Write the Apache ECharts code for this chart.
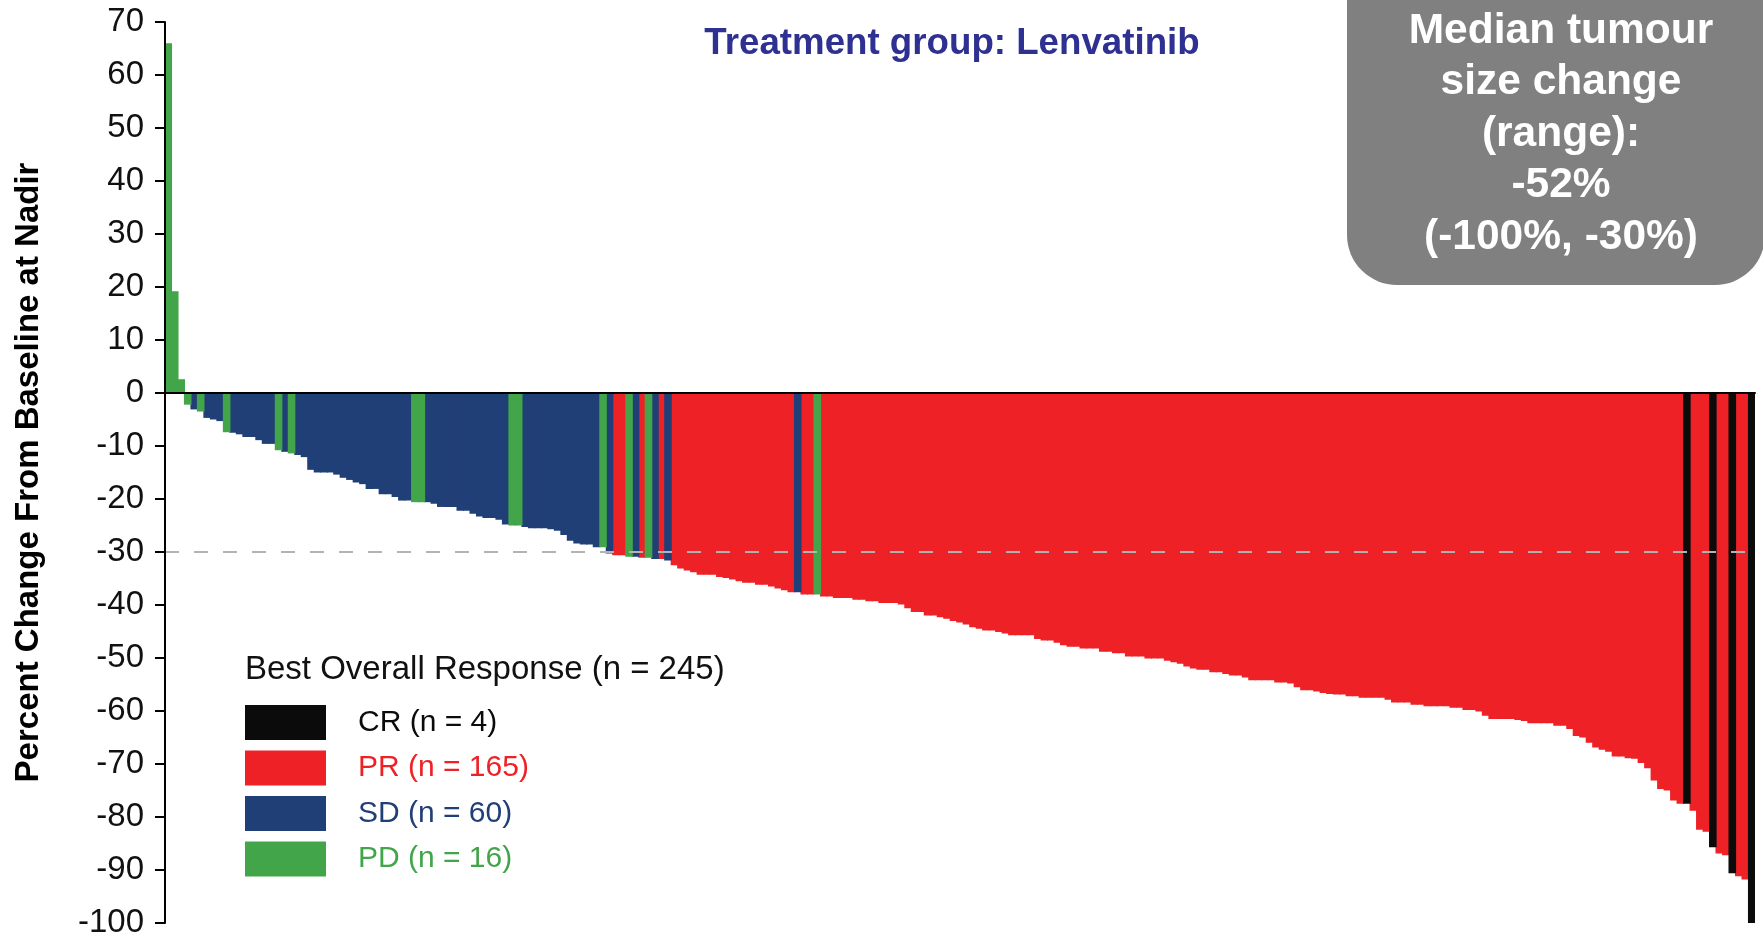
<!DOCTYPE html>
<html>
<head>
<meta charset="utf-8">
<title>Best overall response – Lenvatinib</title>
<script src="https://cdn.jsdelivr.net/npm/echarts@6/dist/echarts.min.js"></script>
<style>
html, body { margin: 0; padding: 0; background: #fff; }
#chart { width: 1763px; height: 940px; }
</style>
</head>
<body>
<div id="chart"></div>
<script>
// percent change from baseline at nadir, one value per patient, sorted
const values = [
  66, 19.2, 2.6, -2.2, -3.1, -3.5, -4.7, -5.0, -5.3, -7.4,
  -7.5, -7.8, -8.3, -8.3, -8.9, -9.6, -9.6, -10.8, -11.1, -11.4,
  -11.7, -12.1, -14.5, -15.0, -15.0, -15.0, -15.4, -16.0, -16.4, -16.9,
  -17.2, -18.1, -18.1, -19.1, -19.1, -19.6, -20.3, -20.3, -20.6, -20.6,
  -20.6, -20.9, -21.5, -21.5, -21.5, -22.2, -22.2, -22.8, -23.3, -23.6,
  -23.6, -23.9, -24.8, -25.0, -25.0, -25.3, -25.5, -25.5, -25.5, -25.7,
  -26.0, -26.8, -27.9, -28.4, -28.6, -28.6, -29.1, -29.1, -30.3, -30.6,
  -30.6, -30.9, -30.9, -31.1, -31.1, -31.3, -31.3, -31.6, -32.5, -33.1,
  -33.5, -33.8, -34.3, -34.3, -34.3, -34.7, -34.9, -35.2, -35.5, -35.8,
  -35.8, -36.2, -36.2, -36.5, -36.9, -37.2, -37.6, -37.6, -38.0, -38.0,
  -38.0, -38.4, -38.4, -38.7, -38.7, -38.7, -39.0, -39.0, -39.3, -39.3,
  -39.6, -39.6, -39.6, -39.9, -40.6, -41.3, -41.3, -42.0, -42.0, -42.3,
  -42.6, -43.0, -43.3, -43.7, -44.2, -44.5, -44.8, -44.8, -45.1, -45.4,
  -45.7, -45.7, -45.7, -45.7, -46.4, -46.7, -46.7, -47.1, -47.6, -47.9,
  -47.9, -48.2, -48.2, -48.2, -48.8, -48.8, -49.1, -49.1, -49.7, -49.7,
  -49.7, -50.1, -50.1, -50.1, -50.5, -50.8, -51.1, -51.6, -52.0, -52.2,
  -52.2, -52.7, -52.7, -53.0, -53.3, -53.3, -53.7, -54.2, -54.2, -54.2,
  -54.2, -54.6, -54.6, -54.8, -55.5, -56.1, -56.1, -56.3, -56.6, -56.8,
  -56.9, -56.9, -57.2, -57.2, -57.5, -57.5, -57.5, -57.5, -57.9, -58.4,
  -58.4, -58.4, -58.8, -58.8, -59.1, -59.1, -59.1, -59.1, -59.4, -59.4,
  -59.8, -59.8, -60.1, -60.9, -61.5, -61.5, -61.5, -61.5, -61.7, -61.9,
  -62.3, -62.3, -62.3, -62.3, -62.8, -62.8, -63.4, -64.7, -65.0, -66.0,
  -66.9, -67.3, -67.7, -68.6, -68.6, -68.9, -69.0, -69.8, -70.8, -73.1,
  -74.7, -75.0, -76.9, -77.5, -77.5, -78.8, -82.4, -82.8, -85.7, -86.9,
  -87.2, -90.6, -91.2, -91.8, -100
]

// best overall response per patient: C = CR, R = PR, S = SD, D = PD
const responseRows = [
  'DDDDSDSSSD', 'SSSSSSSDSD', 'SSSSSSSSSS', 'SSSSSSSSDD', 'SSSSSSSSSS',
  'SSSDDSSSSS', 'SSSSSSSDSR', 'RDSRDSRSRR', 'RRRRRRRRRR', 'RRRRRRRSRR',
  'DRRRRRRRRR', 'RRRRRRRRRR', 'RRRRRRRRRR', 'RRRRRRRRRR', 'RRRRRRRRRR',
  'RRRRRRRRRR', 'RRRRRRRRRR', 'RRRRRRRRRR', 'RRRRRRRRRR', 'RRRRRRRRRR',
  'RRRRRRRRRR', 'RRRRRRRRRR', 'RRRRRRRRRR', 'RRRRCRRRCR', 'RCRRC'
]
const response = responseRows.join('').split('')

// legend order
const groupCodes = ['C', 'R', 'S', 'D']
const groupNames = ['CR', 'PR', 'SD', 'PD']
// drawing order: the big PR block first, the scattered groups on top
const drawOrder = ['R', 'S', 'D', 'C']

const yMin = -100
const yMax = 70
const yStep = 10
const threshold = -30

const title = 'Treatment group: Lenvatinib'
const yName = 'Percent Change From Baseline at Nadir'
const boxLines = ['Median tumour', 'size change', '(range):', '-52%', '(-100%, -30%)']

const font = '"Liberation Sans", Arial, Helvetica, sans-serif'
const colors = { C: '#0b0b0b', R: '#ee2226', S: '#213f77', D: '#42a549' }

const chart = echarts.init(document.getElementById('chart'))

const labelOf = {}
groupCodes.forEach((c, k) => {
  const n = response.filter(r => r === c).length
  labelOf[c] = `${groupNames[k]} (n = ${n})`
})

// bars overlap their neighbours by ~1px so antialiased edges leave no seams
const series = drawOrder.map(c => ({
  name: labelOf[c],
  type: 'bar',
  stack: 'bor',
  barWidth: 7.6,
  itemStyle: { color: colors[c] },
  data: values.map((v, i) => (response[i] === c ? v : '-'))
}))

series[series.length - 1].markLine = {
  silent: true,
  symbol: 'none',
  label: { show: false },
  lineStyle: { color: '#b3b3b3', type: [14, 15], width: 2 },
  data: [{ yAxis: threshold }]
}

const option = {
  animation: false,
  grid: { left: 165, right: 8, top: 22, bottom: 17, outerBoundsMode: 'none' },
  xAxis: {
    type: 'category',
    data: values.map((_, i) => i + 1),
    z: 10,
    axisLine: { onZero: true, lineStyle: { color: '#000', width: 2 } },
    axisTick: { show: false },
    axisLabel: { show: false },
    splitLine: { show: false }
  },
  yAxis: {
    type: 'value',
    min: yMin,
    max: yMax,
    interval: yStep,
    z: 10,
    name: yName,
    nameLocation: 'middle',
    nameGap: 120,
    nameTextStyle: { fontFamily: font, fontSize: 33, fontWeight: 'bold', color: '#000' },
    axisLine: { show: true, lineStyle: { color: '#000', width: 2 } },
    axisTick: { show: true, length: 10, lineStyle: { color: '#000', width: 2 } },
    axisLabel: { fontFamily: font, fontSize: 33, color: '#111', margin: 21 },
    splitLine: { show: false }
  },
  legend: {
    orient: 'vertical',
    left: 245,
    top: 705,
    padding: 0,
    itemWidth: 81,
    itemHeight: 35,
    itemGap: 10.5,
    icon: 'rect',
    selectedMode: false,
    textStyle: { fontFamily: font, fontSize: 30, lineHeight: 35, padding: [0, 0, 0, 27] },
    data: groupCodes.map(c => ({ name: labelOf[c], textStyle: { color: colors[c] } }))
  },
  graphic: [
    {
      type: 'text', x: 952, y: 44,
      style: { text: title, align: 'center', verticalAlign: 'middle', fontFamily: font, fontSize: 36.7, fontWeight: 'bold', fill: '#2e3192' }
    },
    {
      type: 'text', x: 245, y: 670,
      style: { text: `Best Overall Response (n = ${values.length})`, align: 'left', verticalAlign: 'middle', fontFamily: font, fontSize: 33, fill: '#111' }
    },
    {
      type: 'rect', z: 100,
      shape: { x: 1347, y: -60, width: 418, height: 345, r: 50 },
      style: { fill: '#808080' }
    },
    {
      type: 'text', z: 101, x: 1561, y: 134,
      style: { text: boxLines.join('\n'), align: 'center', verticalAlign: 'middle', fontFamily: font, fontSize: 42.5, fontWeight: 'bold', lineHeight: 51.5, fill: '#fff' }
    }
  ],
  series
}

chart.setOption(option)
window.addEventListener('resize', () => chart.resize())
</script>
</body>
</html>
